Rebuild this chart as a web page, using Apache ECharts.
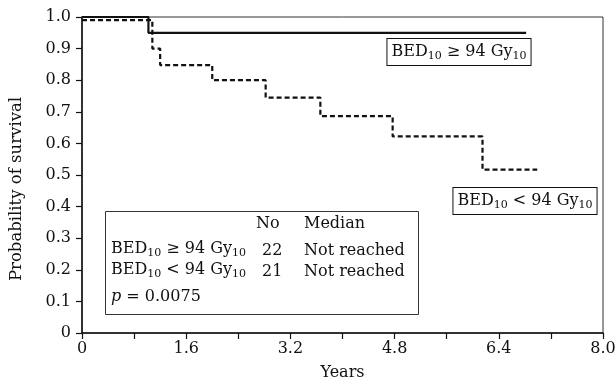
<!DOCTYPE html>
<html>
<head>
<meta charset="utf-8">
<script src="https://cdn.jsdelivr.net/npm/echarts@6/dist/echarts.min.js"></script>
<style>
  html, body { margin: 0; padding: 0; background: #fff; }
  #plot1 { width: 615px; height: 383px; }
</style>
</head>
<body>
<div id="plot1"></div>
<script>
// survival curves (years, probability)
const highTime = [0, 1.02, 6.82];
const highSurv = [1.0, 0.95, 0.95];
const lowTime = [0, 1.08, 1.2, 2.0, 2.82, 3.66, 4.77, 6.15, 6.99];
const lowSurv = [0.99, 0.90, 0.848, 0.80, 0.745, 0.686, 0.622, 0.517, 0.517];

// legend table
const groupNames = ['high', 'low'];
const groupNo = ['22', '21'];
const groupMedian = ['Not reached', 'Not reached'];
const pText = '0.0075';

const FONT = 'DejaVu Serif';
const INK = '#111';

const rich = {
  n: { fontFamily: FONT, fontSize: 16, lineHeight: 20, color: INK },
  s: { fontFamily: FONT, fontSize: 11, lineHeight: 10, verticalAlign: 'bottom', color: INK }
};
function bedLabel(sign) {
  return '{n|BED}{s|10}{n| ' + sign + ' 94 Gy}{s|10}';
}

function pairs(xs, ys) {
  return xs.map(function (x, i) { return [x, ys[i]]; });
}

function txt(x, y, text, extra) {
  var st = {
    text: text, rich: rich,
    fontFamily: FONT, fontSize: 16, fill: INK,
    textAlign: 'left', textVerticalAlign: 'middle',
    align: 'left', verticalAlign: 'middle'
  };
  Object.assign(st, extra || {});
  return { type: 'text', x: x, y: y, z: 10, style: st };
}

const chart = echarts.init(document.getElementById('plot1'));

const option = {
  animation: false,
  backgroundColor: '#fff',
  grid: {
    left: 82, right: 12, top: 17, bottom: 50,
    outerBoundsMode: 'none', containLabel: false,
    show: true, borderColor: '#333', borderWidth: 1
  },
  xAxis: {
    type: 'value', min: 0, max: 8, interval: 0.8,
    name: 'Years', nameLocation: 'middle', nameGap: 32,
    nameTextStyle: { fontFamily: FONT, fontSize: 16, color: INK },
    axisLine: { lineStyle: { color: INK, width: 1.5 } },
    axisTick: { length: 6, lineStyle: { color: INK, width: 1.2 } },
    splitLine: { show: false },
    axisLabel: {
      margin: 8, fontFamily: FONT, fontSize: 16, color: INK,
      formatter: function (v) {
        var k = Math.round(v / 0.8);
        if (k % 2 !== 0) return '';
        return k === 0 ? '0' : (k * 0.8).toFixed(1);
      }
    }
  },
  yAxis: {
    type: 'value', min: 0, max: 1, interval: 0.1,
    axisLine: { show: true, lineStyle: { color: INK, width: 1.5 } },
    axisTick: { show: true, length: 6, lineStyle: { color: INK, width: 1.2 } },
    splitLine: { show: false },
    axisLabel: {
      margin: 11, fontFamily: FONT, fontSize: 16, color: INK,
      formatter: function (v) { return v === 0 ? '0' : v.toFixed(1); }
    }
  },
  series: [
    {
      name: groupNames[0], type: 'line', step: 'end', showSymbol: false,
      data: pairs(highTime, highSurv),
      lineStyle: { color: INK, width: 2.2, type: 'solid' },
      z: 3
    },
    {
      name: groupNames[1], type: 'line', step: 'end', showSymbol: false,
      data: pairs(lowTime, lowSurv),
      lineStyle: { color: INK, width: 2.2, type: [5, 3] },
      z: 4
    }
  ],
  graphic: [
    // y axis title, sits a little below the plot centre in the original
    {
      type: 'text', x: 17, y: 189, rotation: Math.PI / 2, z: 10,
      style: {
        text: 'Probability of survival', fontFamily: FONT, fontSize: 16.5, fill: INK,
        textAlign: 'center', textVerticalAlign: 'middle', align: 'center', verticalAlign: 'middle'
      }
    },
    // boxed curve labels
    txt(459, 52, bedLabel('≥'), {
      textAlign: 'center', align: 'center',
      borderColor: INK, borderWidth: 1, padding: [3, 4, 3, 4], backgroundColor: '#fff'
    }),
    txt(525, 201, bedLabel('<'), {
      textAlign: 'center', align: 'center',
      borderColor: INK, borderWidth: 1, padding: [3, 4, 3, 4], backgroundColor: '#fff'
    }),
    // legend table
    {
      type: 'rect', z: 9,
      shape: { x: 105.5, y: 211.5, width: 313, height: 103 },
      style: { fill: '#fff', stroke: '#333', lineWidth: 1 }
    },
    txt(256, 224, 'No'),
    txt(304, 224, 'Median'),
    txt(111, 249, bedLabel('≥')),
    txt(262, 251, groupNo[0]),
    txt(304, 251, groupMedian[0]),
    txt(111, 270, bedLabel('<')),
    txt(262, 272, groupNo[1]),
    txt(304, 272, groupMedian[1]),
    txt(111, 297, '{i|p}{n| = ' + pText + '}', {
      rich: Object.assign({}, rich, { i: { fontFamily: FONT, fontSize: 16, fontStyle: 'italic', lineHeight: 20, color: INK } })
    })
  ]
};

chart.setOption(option);
</script>
</body>
</html>
